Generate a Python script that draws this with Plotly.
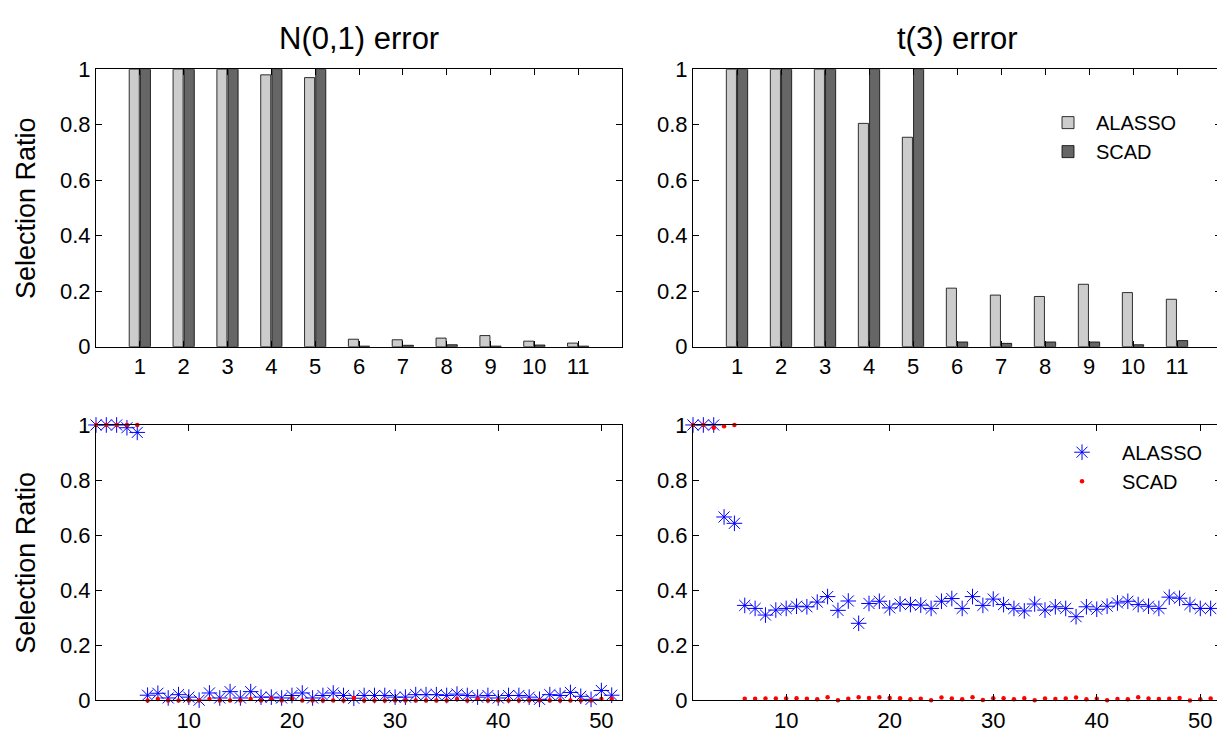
import plotly.graph_objects as go

W, H = 1225, 747

# ---------------- data ----------------
bar_cats = list(range(1, 12))
alasso_norm_bar = [1.0, 1.0, 1.0, 0.98, 0.97, 0.027, 0.025, 0.031, 0.040, 0.020, 0.013]
scad_norm_bar = [1.0, 1.0, 1.0, 1.0, 1.0, 0.002, 0.005, 0.007, 0.002, 0.006, 0.002]
alasso_t3_bar = [1.0, 1.0, 1.0, 0.805, 0.755, 0.211, 0.186, 0.181, 0.225, 0.195, 0.171]
scad_t3_bar = [1.0, 1.0, 1.0, 1.0, 1.0, 0.017, 0.012, 0.017, 0.017, 0.007, 0.022]

idx = list(range(1, 52))
alasso_norm_pts = [1.0, 1.0, 1.0, 0.99, 0.973,
                   0.019, 0.026, 0.009, 0.021, 0.012, 0.001, 0.027, 0.009, 0.032, 0.009,
                   0.032, 0.012, 0.012, 0.009, 0.018, 0.027, 0.009, 0.018, 0.027, 0.018,
                   0.008, 0.018, 0.018, 0.018, 0.012, 0.012, 0.021, 0.021, 0.021, 0.018,
                   0.023, 0.018, 0.012, 0.018, 0.009, 0.018, 0.018, 0.012, 0.004, 0.021,
                   0.018, 0.029, 0.015, 0.004, 0.036, 0.019]
scad_norm_pts = [1.0, 1.0, 1.0, 1.0, 1.0,
                 0.0, 0.005, 0.0, 0.0, 0.0, 0.0, 0.005, 0.0, 0.0, 0.0,
                 0.005, 0.0, 0.006, 0.0, 0.005, 0.0, 0.0, 0.0, 0.0, 0.0,
                 0.009, 0.0, 0.0, 0.0, 0.0, 0.0, 0.0, 0.0, 0.0, 0.0,
                 0.005, 0.0, 0.005, 0.0, 0.0, 0.0, 0.0, 0.0, 0.0, 0.0,
                 0.0, 0.0, 0.0, 0.0, 0.005, 0.005]
alasso_t3_pts = [1.0, 1.0, 1.0, 0.666, 0.643,
                 0.345, 0.334, 0.310, 0.328, 0.334, 0.342, 0.340, 0.357, 0.377, 0.327,
                 0.361, 0.280, 0.352, 0.360, 0.336, 0.350, 0.348, 0.346, 0.334, 0.360,
                 0.370, 0.334, 0.377, 0.345, 0.368, 0.348, 0.334, 0.325, 0.350, 0.328,
                 0.340, 0.334, 0.304, 0.340, 0.331, 0.342, 0.354, 0.360, 0.348, 0.342,
                 0.334, 0.375, 0.371, 0.348, 0.334, 0.334]
scad_t3_pts = [1.0, 1.0, 0.99, 0.995, 1.0,
               0.006, 0.006, 0.007, 0.007, 0.007, 0.008, 0.006, 0.004, 0.012, 0.001,
               0.006, 0.012, 0.009, 0.012, 0.009, 0.008, 0.004, 0.006, 0.001, 0.011,
               0.007, 0.004, 0.012, 0.002, 0.008, 0.008, 0.004, 0.008, 0.001, 0.007,
               0.005, 0.007, 0.011, 0.004, 0.006, 0.001, 0.005, 0.004, 0.012, 0.007,
               0.005, 0.006, 0.009, 0.0, 0.004, 0.007]

titles = ["N(0,1) error", "t(3) error"]
series_names = ["ALASSO", "SCAD"]
ytick_vals = [0, 0.2, 0.4, 0.6, 0.8, 1]
ytick_text = ["0", "0.2", "0.4", "0.6", "0.8", "1"]
bottom_xticks = [10, 20, 30, 40, 50]

# ---------------- styling ----------------
FONT = "Liberation Sans, Arial, sans-serif"
LIGHT = "#cccccc"
DARK = "#666666"

fig = go.Figure()

# bars
bar_line = dict(color="#000", width=0.8)
fig.add_trace(go.Bar(x=bar_cats, y=alasso_norm_bar, name=series_names[0], marker=dict(color=LIGHT, line=bar_line), xaxis="x", yaxis="y", showlegend=False))
fig.add_trace(go.Bar(x=bar_cats, y=scad_norm_bar, name=series_names[1], marker=dict(color=DARK, line=bar_line), xaxis="x", yaxis="y", showlegend=False))
fig.add_trace(go.Bar(x=bar_cats, y=alasso_t3_bar, name=series_names[0], marker=dict(color=LIGHT, line=bar_line), xaxis="x2", yaxis="y2", legend="legend"))
fig.add_trace(go.Bar(x=bar_cats, y=scad_t3_bar, name=series_names[1], marker=dict(color=DARK, line=bar_line), xaxis="x2", yaxis="y2", legend="legend"))

star = dict(symbol="asterisk-open", size=13, color="blue", line=dict(color="blue", width=1))
dot = dict(symbol="circle", size=4.5, color="red", line=dict(width=0))

fig.add_trace(go.Scatter(x=idx, y=alasso_norm_pts, mode="markers", marker=star, name=series_names[0], xaxis="x3", yaxis="y3", showlegend=False, cliponaxis=False))
fig.add_trace(go.Scatter(x=idx, y=scad_norm_pts, mode="markers", marker=dot, name=series_names[1], xaxis="x3", yaxis="y3", showlegend=False, cliponaxis=False))
fig.add_trace(go.Scatter(x=idx, y=alasso_t3_pts, mode="markers", marker=star, name=series_names[0], xaxis="x4", yaxis="y4", legend="legend2", cliponaxis=False))
fig.add_trace(go.Scatter(x=idx, y=scad_t3_pts, mode="markers", marker=dot, name=series_names[1], xaxis="x4", yaxis="y4", legend="legend2", cliponaxis=False))

L0, L1 = 88, 614
R0, R1 = 685, 1213
T0, T1 = 51, 338
B0, B1 = 419, 704

def xd(a, b):
    return [a / W, b / W]

def yd(a, b):
    return [1 - b / H, 1 - a / H]

common = dict(showline=True, linecolor="#000", linewidth=1, mirror="ticks", ticks="inside",
              ticklen=6, tickcolor="#000", showgrid=False, zeroline=False,
              tickfont=dict(family=FONT, size=22, color="#000"))

bar_x = dict(common, range=[0, 12], tickvals=bar_cats)
pts_x = dict(common, range=[1, 52], tickvals=bottom_xticks)
yax = dict(common, range=[0, 1], tickvals=ytick_vals, ticktext=ytick_text)

fig.update_layout(
    width=W, height=H, margin=dict(l=0, r=0, t=0, b=0),
    paper_bgcolor="white", plot_bgcolor="white",
    barmode="group", bargap=0.49, bargroupgap=0.1,
    xaxis=dict(bar_x, domain=xd(L0, L1), anchor="y"),
    yaxis=dict(yax, domain=yd(T0, T1), anchor="x"),
    xaxis2=dict(bar_x, domain=xd(R0, R1), anchor="y2"),
    yaxis2=dict(yax, domain=yd(T0, T1), anchor="x2"),
    xaxis3=dict(pts_x, domain=xd(L0, L1), anchor="y3"),
    yaxis3=dict(yax, domain=yd(B0, B1), anchor="x3"),
    xaxis4=dict(pts_x, domain=xd(R0, R1), anchor="y4"),
    yaxis4=dict(yax, domain=yd(B0, B1), anchor="x4"),
    legend=dict(x=1174 / W, xanchor="right", y=1 - 86 / H, yanchor="top",
                bgcolor="rgba(255,255,255,0)", borderwidth=0,
                font=dict(family=FONT, size=20, color="#000"), itemwidth=46),
    legend2=dict(x=1200 / W, xanchor="right", y=1 - 427 / H, yanchor="top",
                 bgcolor="rgba(255,255,255,0)", borderwidth=0,
                 font=dict(family=FONT, size=20, color="#000"), itemwidth=70),
    font=dict(family=FONT, color="#000"),
)

annotations = [
    dict(text=titles[0], x=(L0 + L1) / 2 / W, y=1 - 19 / H, xref="paper", yref="paper",
         showarrow=False, font=dict(family=FONT, size=31, color="#000"), xanchor="center", yanchor="middle"),
    dict(text=titles[1], x=(R0 + R1) / 2 / W, y=1 - 19 / H, xref="paper", yref="paper",
         showarrow=False, font=dict(family=FONT, size=31, color="#000"), xanchor="center", yanchor="middle"),
    dict(text="Selection Ratio", x=18 / W, y=1 - (T0 + T1) / 2 / H, xref="paper", yref="paper",
         showarrow=False, textangle=-90, font=dict(family=FONT, size=27, color="#000"), xanchor="center", yanchor="middle"),
    dict(text="Selection Ratio", x=18 / W, y=1 - (B0 + B1) / 2 / H, xref="paper", yref="paper",
         showarrow=False, textangle=-90, font=dict(family=FONT, size=27, color="#000"), xanchor="center", yanchor="middle"),
]
fig.update_layout(annotations=annotations)

fig.write_html("out.html")
